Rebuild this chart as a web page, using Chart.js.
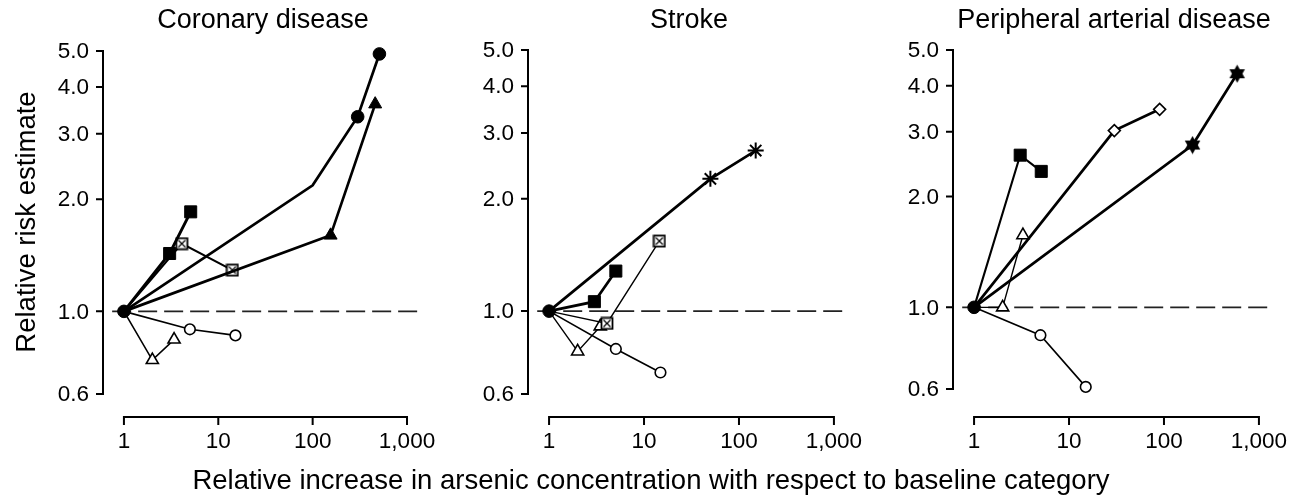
<!DOCTYPE html>
<html>
<head>
<meta charset="utf-8">
<script src="https://cdn.jsdelivr.net/npm/chart.js@4.4.1/dist/chart.umd.min.js"></script>
<style>
  body { margin: 0; background: #fff; }
  #wrap { position: relative; width: 1305px; height: 496px; overflow: hidden; font-family: "Liberation Sans", Arial, sans-serif; color: #000; }
  #wrap canvas { position: absolute; top: 0; }
  .ytitle { position: absolute; left: -174px; top: 207px; width: 400px; line-height: 30px; font-size: 27.5px; text-align: center; transform: rotate(-90deg); white-space: nowrap; }
  .xtitle { position: absolute; left: 51px; top: 465px; width: 1200px; line-height: 30px; font-size: 27.5px; text-align: center; white-space: nowrap; }
</style>
</head>
<body>
<div id="wrap">
  <canvas id="cor" width="440" height="496" style="left:0px"></canvas>
  <canvas id="stroke" width="430" height="496" style="left:440px"></canvas>
  <canvas id="pad" width="435" height="496" style="left:870px"></canvas>
  <div class="ytitle">Relative risk estimate</div>
  <div class="xtitle">Relative increase in arsenic concentration with respect to baseline category</div>
</div>
<script>
// axis ticks
const xTickValues = [1, 10, 100, 1000];
const xTickLabels = ['1', '10', '100', '1,000'];
const yTickValues = [0.6, 1, 2, 3, 4, 5];
const yTickLabels = ['0.6', '1.0', '2.0', '3.0', '4.0', '5.0'];

// reference line at RR = 1
const refX = [0.75, 1340];
const refY = [1, 1];

// Coronary disease
const corCircleX = [1, 100, 300, 510];
const corCircleY = [1, 2.18, 3.33, 4.91];
const corTriX = [1, 155, 460];
const corTriY = [1, 1.6, 3.6];
const corSquareX = [1, 3.05, 5.1];
const corSquareY = [1, 1.43, 1.85];
const corBoxX = [1, 4.1, 14.1];
const corBoxY = [1, 1.52, 1.29];
const corOpenCircleX = [1, 5, 15.2];
const corOpenCircleY = [1, 0.895, 0.862];
const corOpenTriX = [1, 2, 3.4];
const corOpenTriY = [1, 0.74, 0.84];

// Stroke
const strAstX = [1, 50, 150];
const strAstY = [1, 2.26, 2.69];
const strSquareX = [1, 3, 5.05];
const strSquareY = [1, 1.06, 1.28];
const strBoxX = [1, 4.07, 14.5];
const strBoxY = [1, 0.927, 1.54];
const strOpenTriX = [1, 2, 3.46];
const strOpenTriY = [1, 0.78, 0.91];
const strOpenCircleX = [1, 5.05, 14.9];
const strOpenCircleY = [1, 0.792, 0.685];

// Peripheral arterial disease
const padSquareX = [1, 3.06, 5.1];
const padSquareY = [1, 2.59, 2.34];
const padDiamondX = [1, 30, 90];
const padDiamondY = [1, 3.02, 3.45];
const padStarX = [1, 200, 590];
const padStarY = [1, 2.76, 4.31];
const padOpenTriX = [1, 2, 3.27];
const padOpenTriY = [1, 1.0, 1.57];
const padOpenCircleX = [1, 5, 15];
const padOpenCircleY = [1, 0.84, 0.608];

Chart.defaults.font.family = '"Liberation Sans", Arial, sans-serif';

function makeBoxedCross(size) {
  const c = document.createElement('canvas');
  c.width = size; c.height = size;
  const g = c.getContext('2d');
  g.fillStyle = '#fff';
  g.fillRect(1, 1, size - 2, size - 2);
  g.strokeStyle = '#000';
  g.lineWidth = 1.8;
  g.strokeRect(1.5, 1.5, size - 3, size - 3);
  g.lineWidth = 1.2;
  g.beginPath();
  g.moveTo(3.5, 3.5); g.lineTo(size - 3.5, size - 3.5);
  g.moveTo(size - 3.5, 3.5); g.lineTo(3.5, size - 3.5);
  g.stroke();
  return c;
}

function makeHexagram(size) {
  const c = document.createElement('canvas');
  c.width = size; c.height = size;
  const g = c.getContext('2d');
  const m = size / 2, r = size / 2 - 0.5;
  g.fillStyle = '#000';
  [-90, 90].forEach(start => {
    g.beginPath();
    for (let k = 0; k < 3; k++) {
      const a = (start + k * 120) * Math.PI / 180;
      const px = m + r * Math.cos(a), py = m + r * Math.sin(a);
      if (k === 0) g.moveTo(px, py); else g.lineTo(px, py);
    }
    g.closePath();
    g.fill();
  });
  return c;
}

const boxedCross = makeBoxedCross(14);
const hexagram = makeHexagram(19);

const MARK = {
  filledCircle: { pointStyle: 'circle', pointRadius: 6.3, pointBackgroundColor: '#000', pointBorderWidth: 1 },
  filledSquare: { pointStyle: 'rect', pointRadius: 8.5, pointBackgroundColor: '#000', pointBorderWidth: 1 },
  filledTriangle: { pointStyle: 'triangle', pointRadius: 7.5, pointBackgroundColor: '#000', pointBorderWidth: 1 },
  openCircle: { pointStyle: 'circle', pointRadius: 5.3, pointBackgroundColor: '#fff', pointBorderWidth: 1.6 },
  openTriangle: { pointStyle: 'triangle', pointRadius: 7, pointBackgroundColor: '#fff', pointBorderWidth: 1.6 },
  openDiamond: { pointStyle: 'rectRot', pointRadius: 6, pointBackgroundColor: '#fff', pointBorderWidth: 1.6 },
  asterisk: { pointStyle: 'star', pointRadius: 8, pointBackgroundColor: '#000', pointBorderWidth: 2 },
  boxedCross: { pointStyle: boxedCross, pointRadius: 6 },
  hexagram: { pointStyle: hexagram, pointRadius: 9 }
};

// first point sits under the shared reference dot, so no marker there
function series(xs, ys, mark, width, noMarker = [0]) {
  const r = mark.pointRadius;
  return Object.assign({}, mark, {
    data: xs.map((v, i) => ({ x: v, y: ys[i] })),
    showLine: true,
    borderColor: '#000',
    pointBorderColor: '#000',
    borderWidth: width,
    pointRadius: xs.map((v, i) => noMarker.includes(i) ? 0 : r),
    tension: 0,
    clip: false
  });
}

function refLine() {
  return {
    data: refX.map((v, i) => ({ x: v, y: refY[i] })),
    showLine: true,
    borderColor: '#222',
    borderWidth: 1.6,
    borderDash: [19, 7],
    pointRadius: 0,
    clip: false
  };
}

function originDot() {
  return series([1], [1], MARK.filledCircle, 0, []);
}

// axes drawn detached from the plot, the way the printed figure has them
const detachedAxes = {
  id: 'detachedAxes',
  beforeDatasetsDraw(chart, args, opts) {
    const { ctx, chartArea } = chart;
    const xs = chart.scales.x, ys = chart.scales.y;
    const left = chartArea.left;
    ctx.save();
    ctx.strokeStyle = '#000';
    ctx.fillStyle = '#000';
    ctx.lineWidth = 2;

    // y axis
    ctx.beginPath();
    ctx.moveTo(left, ys.getPixelForValue(yTickValues[yTickValues.length - 1]) - 1);
    ctx.lineTo(left, ys.getPixelForValue(yTickValues[0]) + 1);
    yTickValues.forEach(v => {
      const py = ys.getPixelForValue(v);
      ctx.moveTo(left - 7, py);
      ctx.lineTo(left, py);
    });
    ctx.stroke();
    ctx.font = '22.5px "Liberation Sans", Arial, sans-serif';
    ctx.textAlign = 'right';
    ctx.textBaseline = 'middle';
    yTickValues.forEach((v, i) => ctx.fillText(yTickLabels[i], left - 14, ys.getPixelForValue(v) + 1));

    // x axis
    const ay = opts.axisY;
    ctx.beginPath();
    ctx.moveTo(xs.getPixelForValue(xTickValues[0]) - 1, ay);
    ctx.lineTo(xs.getPixelForValue(xTickValues[xTickValues.length - 1]) + 1, ay);
    xTickValues.forEach(v => {
      const px = xs.getPixelForValue(v);
      ctx.moveTo(px, ay);
      ctx.lineTo(px, ay + 8);
    });
    ctx.stroke();
    ctx.textAlign = 'center';
    xTickValues.forEach((v, i) => ctx.fillText(xTickLabels[i], xs.getPixelForValue(v), ay + 25));

    // panel title
    ctx.font = '27px "Liberation Sans", Arial, sans-serif';
    ctx.textBaseline = 'alphabetic';
    ctx.fillText(opts.title, (chartArea.left + chartArea.right) / 2 + 2, 28);
    ctx.restore();
  }
};

function makePanel(id, title, padding, datasets) {
  return new Chart(document.getElementById(id), {
    type: 'scatter',
    data: { datasets: [originDot()].concat(datasets, [refLine()]) },
    plugins: [detachedAxes],
    options: {
      responsive: false,
      animation: false,
      events: [],
      layout: { padding: padding },
      scales: {
        x: { type: 'logarithmic', min: 0.6, max: 1340, display: false },
        y: { type: 'logarithmic', min: 0.6, max: 5, display: false }
      },
      plugins: {
        legend: { display: false },
        tooltip: { enabled: false },
        detachedAxes: { title: title, axisY: 417 }
      }
    }
  });
}

makePanel('cor', 'Coronary disease', { left: 103, right: 21, top: 51, bottom: 102 }, [
  series(corCircleX, corCircleY, MARK.filledCircle, 2.7, [0, 1]),
  series(corTriX, corTriY, MARK.filledTriangle, 2.7),
  series(corSquareX, corSquareY, MARK.filledSquare, 2.9),
  series(corBoxX, corBoxY, MARK.boxedCross, 2.1),
  series(corOpenCircleX, corOpenCircleY, MARK.openCircle, 1.6),
  series(corOpenTriX, corOpenTriY, MARK.openTriangle, 1.6)
]);

makePanel('stroke', 'Stroke', { left: 88, right: 24, top: 50, bottom: 102 }, [
  series(strAstX, strAstY, MARK.asterisk, 2.7),
  series(strSquareX, strSquareY, MARK.filledSquare, 2.7),
  series(strBoxX, strBoxY, MARK.boxedCross, 1.4),
  series(strOpenTriX, strOpenTriY, MARK.openTriangle, 1.4),
  series(strOpenCircleX, strOpenCircleY, MARK.openCircle, 1.6)
]);

makePanel('pad', 'Peripheral arterial disease', { left: 83, right: 34, top: 50, bottom: 107 }, [
  series(padStarX, padStarY, MARK.hexagram, 2.7),
  series(padDiamondX, padDiamondY, MARK.openDiamond, 2.7),
  series(padSquareX, padSquareY, MARK.filledSquare, 2.1),
  series(padOpenTriX, padOpenTriY, MARK.openTriangle, 1.4),
  series(padOpenCircleX, padOpenCircleY, MARK.openCircle, 1.6)
]);
</script>
</body>
</html>
